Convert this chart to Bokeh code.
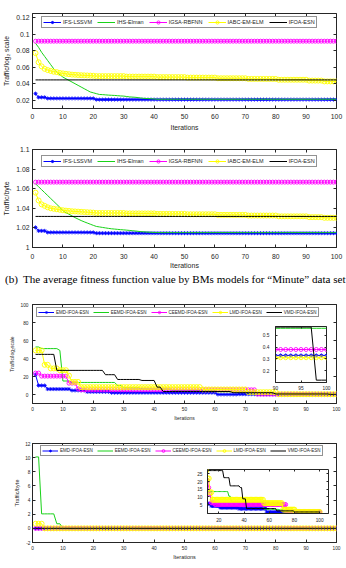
from bokeh.plotting import figure
from bokeh.models import (Range1d, FixedTicker, LinearAxis, Legend, LegendItem,
                          Label, Div, CustomJSTickFormatter, CustomLabelingPolicy)
from bokeh.layouts import column
from bokeh.embed import file_html
from bokeh.resources import INLINE

# ---------------- data ----------------
iterations = list(range(1, 101))

# (top) single models, Traffic/log2 scale
ifs_lssvm_log = [0.028] + [0.0235] * 3 + [0.0222] * 16 + [0.0208] * 80
ihs_elman_log = [0.089, 0.084, 0.078, 0.073, 0.068, 0.063, 0.058, 0.054, 0.051, 0.048,
                 0.046, 0.044, 0.042, 0.040, 0.038, 0.036, 0.034, 0.032, 0.030, 0.029,
                 0.028, 0.027, 0.0268, 0.0265, 0.0262, 0.026, 0.0258, 0.0255, 0.0252, 0.025,
                 0.0245, 0.024, 0.0238, 0.0235, 0.023, 0.0225, 0.0222, 0.022, 0.0218, 0.0215] + [0.0212] * 60
igsa_rbfnn_log = [0.0915] * 100
iabc_em_elm_log = [0.077, 0.066, 0.061, 0.058, 0.0565, 0.0555, 0.0545, 0.054, 0.053, 0.0525,
                   0.052, 0.0515, 0.051, 0.0508, 0.0505, 0.0503, 0.0501, 0.050, 0.0498, 0.0496] + \
                  [0.0492] * 10 + [0.0486] * 10 + [0.048] * 10 + [0.0474] * 10 + [0.0466] * 10 + \
                  [0.0458] * 10 + [0.0448] * 10 + [0.0438] * 5 + [0.0428] * 5
ifoa_esn_log = [0.0446] * 100

# (top) single models, Traffic/byte
ifs_lssvm_byte = [1.0205] + [1.017] * 3 + [1.0154] * 16 + [1.0146] * 80
ihs_elman_byte = [1.065, 1.062, 1.059, 1.056, 1.053, 1.050, 1.047, 1.044, 1.041, 1.0375,
                  1.0355, 1.034, 1.0322, 1.0305, 1.029, 1.0275, 1.0262, 1.025, 1.0238, 1.0226,
                  1.0215, 1.021, 1.0205, 1.020, 1.0195, 1.0191, 1.0188, 1.0185, 1.0182, 1.018,
                  1.0177, 1.0174, 1.0171, 1.0168, 1.0164, 1.0161, 1.0159, 1.0157, 1.0155, 1.0154] + [1.0152] * 60
igsa_rbfnn_byte = [1.0667] * 100
iabc_em_elm_byte = [1.056, 1.048, 1.044, 1.0425, 1.041, 1.040, 1.0395, 1.039, 1.0385, 1.038,
                    1.0376, 1.0373, 1.037, 1.0368, 1.0366, 1.0364, 1.0362, 1.036, 1.0358, 1.0356] + \
                   [1.0352] * 10 + [1.0348] * 10 + [1.0343] * 10 + [1.0339] * 10 + [1.0333] * 10 + \
                   [1.0326] * 10 + [1.0318] * 10 + [1.031] * 5 + [1.0303] * 5
ifoa_esn_byte = [1.0317] * 100

# (bottom) decomposition models, Traffic/log2 scale
emd_log = [22] + [10] * 3 + [6] * 8 + [4.5] * 5 + [3] * 8 + [2] * 35 + [0.05] * 7 + [0.33] * 33
eemd_log = [52.8] * 2 + [51] * 6 + [49] + [15] * 3 + [13.4] * 15 + [10] * 2 + [7.4] * 6 + \
           [6] * 10 + [4.5] * 15 + [3] * 12 + [2] * 7 + [0.56] * 21
ceemd_log = [23.8] * 2 + [20.4] * 9 + [12.6] * 3 + [6.3] + [5.2] * 58 + [0.38] * 27
lmd_log = [49] * 3 + [33] * 2 + [29] * 3 + [27] * 3 + [21] + [14] * 3 + [8.2] * 40 + \
          [5.6] * 15 + [2.6] * 10 + [0.31] * 20
vmd_log = [44.6] * 7 + [26.8] * 16 + [22] * 4 + [16.7] * 8 + [15.6] * 5 + [8.2] * 2 + \
          [3.3] * 23 + [2] * 14 + [0.57] * 18 + [0.12] * 3

# (bottom) decomposition models, Traffic/byte
emd_byte = [24] + [10] * 3 + [6] * 6 + [5.6] * 3 + [4.2] * 7 + [3.1] * 15 + [2.5] * 22 + \
           [0.1] * 10 + [0.35] * 33
eemd_byte = [1.01e16] * 2 + [2.05e15] * 5 + [6.5e14] * 2 + [15] + [13.5] * 17 + [10.5] * 2 + \
            [7] * 11 + [4] * 15 + [2] * 12 + [1.8] * 9 + [0.6] * 24
ceemd_byte = [24] * 2 + [21] * 8 + [20.4] + [16] + [12] + [6.2] * 3 + [5.1] * 57 + [0.4] * 27
lmd_byte = [6.5e14] * 3 + [33] * 2 + [29] * 3 + [27] * 2 + [22] * 2 + [13] * 2 + [8.2] * 41 + \
           [6] * 15 + [1.8] * 10 + [0.3] * 20
vmd_byte = [45] * 7 + [27.1] * 16 + [22.5] * 5 + [17.2] * 8 + [16.1] * 2 + [8.8] * 3 + \
           [2.5] * 24 + [1] * 14 + [0.3] * 21

single_names = ["IFS-LSSVM", "IHS-Elman", "IGSA-RBFNN", "IABC-EM-ELM", "IFOA-ESN"]
decomp_names = ["EMD-IFOA-ESN", "EEMD-IFOA-ESN", "CEEMD-IFOA-ESN", "LMD-IFOA-ESN", "VMD-IFOA-ESN"]

iter_ticks = [0, 10, 20, 30, 40, 50, 60, 70, 80, 90, 100]
log_ticks_a = [0.02, 0.04, 0.06, 0.08, 0.1, 0.12]
byte_ticks_a = [1.0, 1.02, 1.04, 1.06, 1.08, 1.1]
log_ticks_b = [0, 20, 40, 60, 80, 100]
byte_ticks_b = [-2, 0, 2, 4, 6, 8, 10, 12]
byte_exponent = 1e15
inset_a_xticks = [90, 95, 100]
inset_a_yticks = [0.2, 0.3, 0.4, 0.5]
inset_b_xticks = [20, 40, 60, 80, 100]
inset_b_yticks = [5, 10, 15, 20, 25]

caption = "The average fitness function value by BMs models for \u201cMinute\u201d data set"

# ---------------- style ----------------
SANS = "Liberation Sans"
AXC = "#262626"
BLUE, GREEN, MAGENTA, YELLOW, BLACK = "#0000ff", "#19d219", "#ff00ff", "#ffff00", "#000000"
series_style = [(BLUE, "asterisk"), (GREEN, None), (MAGENTA, "circle"), (YELLOW, "circle"), (BLACK, None)]
num_fmt = CustomJSTickFormatter(code="return String(+tick.toFixed(4));")
no_labels = CustomLabelingPolicy(code="for (const i of Array.from(indices)) { indices.unset(i) } return indices;")


def base_fig(width, height, xr, yr, borders, transparent=False, styles=None):
    l, r, t, b = borders
    kw = {}
    if styles:
        kw["styles"] = styles
    p = figure(width=width, height=height, x_range=Range1d(*xr), y_range=Range1d(*yr),
               output_backend="svg", toolbar_location=None,
               min_border_left=l, min_border_right=r, min_border_top=t, min_border_bottom=b, **kw)
    p.grid.visible = False
    p.outline_line_color = AXC
    p.outline_line_width = 1
    p.background_fill_color = "white"
    p.border_fill_color = None if transparent else "white"
    return p


def setup_axes(p, xticks, yticks, fs, xlabel=None, ylabel=None, lfs="6px",
               xstd=3, ystd=3, xlstd=2, ylstd=2, yfmt=None, tick=3):
    xa, ya = p.xaxis[0], p.yaxis[0]
    for ax, ticks, std, lab, lstd in ((xa, xticks, xstd, xlabel, xlstd), (ya, yticks, ystd, ylabel, ylstd)):
        ax.ticker = FixedTicker(ticks=ticks)
        ax.major_tick_in = tick
        ax.major_tick_out = 0
        ax.minor_tick_line_color = None
        ax.axis_line_color = AXC
        ax.major_tick_line_color = AXC
        ax.major_label_text_font = SANS
        ax.major_label_text_font_size = fs
        ax.major_label_text_color = AXC
        ax.major_label_standoff = std
        if lab:
            ax.axis_label = lab
            ax.axis_label_text_font = SANS
            ax.axis_label_text_font_size = lfs
            ax.axis_label_text_font_style = "normal"
            ax.axis_label_text_color = AXC
            ax.axis_label_standoff = lstd
    if yfmt is not None:
        ya.formatter = yfmt
    # mirrored inward ticks on the top and right edges (box on)
    for place, ticks in (("above", xticks), ("right", yticks)):
        ax = LinearAxis(ticker=FixedTicker(ticks=ticks), major_tick_in=tick, major_tick_out=0,
                        minor_tick_line_color=None, axis_line_color=None,
                        major_tick_line_color=AXC, major_label_policy=no_labels,
                        major_label_text_font_size="1px", major_label_standoff=0)
        p.add_layout(ax, place)


def draw(p, ys, msize=4.0, ysize=5.0):
    items = []
    for y, (color, marker) in zip(ys, series_style):
        rs = [p.line(iterations, y, line_color=color, line_width=1)]
        if marker is not None:
            size = ysize if color == YELLOW else msize
            rs.append(p.scatter(iterations, y, marker=marker, size=size, line_color=color,
                                fill_color=None, line_width=0.9))
        items.append(rs)
    return items


def add_legend(p, names, rlists, fs, loc, gw, gh, spacing):
    leg = Legend(items=[LegendItem(label=n, renderers=r) for n, r in zip(names, rlists)],
                 location=loc, orientation="horizontal", label_text_font=SANS,
                 label_text_font_size=fs, label_text_color=AXC, glyph_width=gw, glyph_height=gh,
                 label_height=gh - 2, label_standoff=2, spacing=spacing, padding=1, margin=0,
                 border_line_color=AXC, border_line_width=0.8, background_fill_color="white",
                 background_fill_alpha=1)
    p.add_layout(leg)


# ---------- panel 1: log2 scale, single models ----------
p1 = base_fig(346, 136, (0, 100), (0.01, 0.125), (29, 10, 13, 28))
setup_axes(p1, iter_ticks, log_ticks_a, "6.8px", "Iterations", "Traffic/log\u2082 scale", "6.8px",
           xstd=5, ystd=3, xlstd=2, ylstd=3, yfmt=num_fmt)
r1 = draw(p1, [ifs_lssvm_log, ihs_elman_log, igsa_rbfnn_log, iabc_em_elm_log, ifoa_esn_log])
add_legend(p1, single_names, r1, "5.5px", (9, 80), 18, 8, 5)

# ---------- panel 2: byte, single models ----------
p2 = base_fig(346, 136, (0, 100), (1.0, 1.1), (29, 10, 13, 25))
setup_axes(p2, iter_ticks, byte_ticks_a, "6.8px", "Iterations", "Traffic/byte", "7px",
           xstd=6, ystd=3, xlstd=0, ylstd=3, yfmt=num_fmt)
r2 = draw(p2, [ifs_lssvm_byte, ihs_elman_byte, igsa_rbfnn_byte, iabc_em_elm_byte, ifoa_esn_byte])
add_legend(p2, single_names, r2, "5.5px", (9, 80), 18, 8, 5)

# ---------- panel 3: log2 scale, decomposition models ----------
p3 = base_fig(346, 154, (0, 100), (-10, 100), (29, 10, 32, 23))
setup_axes(p3, iter_ticks, log_ticks_b, "4.8px", "Iterations", "Traffic/log\u2082scale", "5px",
           xstd=3, ystd=4, xlstd=1, ylstd=2)
decomp_log = [emd_log, eemd_log, ceemd_log, lmd_log, vmd_log]
r3 = draw(p3, decomp_log)
add_legend(p3, decomp_names, r3, "4.5px", (4, 86), 16, 6, 4)

# ---------- panel 4: byte, decomposition models ----------
p4 = base_fig(346, 142, (0, 100), (byte_ticks_b[0] * byte_exponent, byte_ticks_b[-1] * byte_exponent),
              (29, 10, 17, 26))
setup_axes(p4, iter_ticks, [t * byte_exponent for t in byte_ticks_b], "4.8px", "Iterations",
           "Traffic/byte", "5.5px", xstd=3, ystd=2, xlstd=1, ylstd=2,
           yfmt=CustomJSTickFormatter(code="return (tick/1e15).toFixed(0);"))
decomp_byte = [emd_byte, eemd_byte, ceemd_byte, lmd_byte, vmd_byte]
r4 = draw(p4, decomp_byte)
add_legend(p4, decomp_names, r4, "4.5px", (8, 86), 16, 7, 4)
p4.add_layout(Label(x=0, y=byte_ticks_b[-1] * byte_exponent, text="\u00d710\u00b9\u2075",
                    text_font=SANS, text_font_size="5.5px", text_color=AXC,
                    text_baseline="bottom", text_align="left", y_offset=2))

# ---------- insets ----------
ins3 = base_fig(93, 70, (90, 100), (0.1, 0.575), (14, 3, 3, 10), transparent=True,
                styles={"position": "absolute", "left": "243px", "top": "322px"})
setup_axes(ins3, inset_a_xticks, inset_a_yticks, "4.8px", xstd=3, ystd=6, yfmt=num_fmt, tick=2)
draw(ins3, decomp_log, msize=4, ysize=4)

ins4 = base_fig(163, 60, (11, 107), (-0.7, 27.8), (16, 3, 3, 12), transparent=True,
                styles={"position": "absolute", "left": "175px", "top": "465px"})
setup_axes(ins4, inset_b_xticks, inset_b_yticks, "4.8px", xstd=4, ystd=5, tick=2)
draw(ins4, decomp_byte, msize=4, ysize=5)

cap = Div(text=('<div style="font-family:\'Liberation Serif\';font-size:11.1px;line-height:13px;'
                'white-space:nowrap;margin-left:0px;color:#000;">(b)<span style="display:inline-block;'
                'width:5px"></span>' + caption + '</div>'),
          width=346, height=14,
          styles={"position": "absolute", "left": "0px", "top": "266px", "overflow": "hidden"})

layout = column(p1, p2, p3, p4, cap, ins3, ins4, spacing=0, styles={"position": "relative"})

open("out.html", "w").write(file_html(layout, INLINE))
